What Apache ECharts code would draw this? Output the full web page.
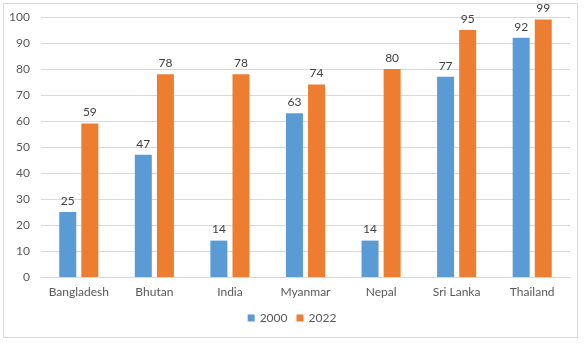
<!DOCTYPE html>
<html><head><meta charset="utf-8">
<script src="https://cdn.jsdelivr.net/npm/echarts@6/dist/echarts.min.js"></script>
<style>
html,body{margin:0;padding:0;background:#fff;}
#frame{position:absolute;left:3px;top:3px;width:575px;height:335px;border:1px solid #d9d9d9;box-sizing:border-box;}
#c{position:absolute;left:0;top:0;width:584px;height:345px;}
</style></head>
<body>
<div id="frame"></div>
<div id="c"></div>
<script>
const categories = ['Bangladesh','Bhutan','India','Myanmar','Nepal','Sri Lanka','Thailand'];
const values2000 = [25,47,14,63,14,77,92];
const values2022 = [59,78,78,74,80,95,99];
const seriesNames = ['2000','2022'];
const yTicks = {min:0, max:100, interval:10};

const chart = echarts.init(document.getElementById('c'), null, {renderer:'canvas'});
const txt = '#595959';
const font = 'Lato, sans-serif';
const fs = 12;
const label = {show:true, position:'top', distance:5, color:'#404040', fontSize:fs, fontFamily:font};
chart.setOption({
  animation:false,
  grid:{left:41, right:14, top:17, bottom:68, containLabel:false},
  legend:{bottom:16, left:'center', itemWidth:7, itemHeight:7, itemGap:9,
    textStyle:{color:txt, fontSize:fs, fontFamily:font}, icon:'rect',
    data:seriesNames},
  xAxis:{type:'category', data:categories,
    axisLine:{lineStyle:{color:'#d9d9d9'}}, axisTick:{show:false},
    axisLabel:{color:txt, fontSize:fs, fontFamily:font, margin:9, interval:0}},
  yAxis:{type:'value', min:yTicks.min, max:yTicks.max, interval:yTicks.interval,
    axisLine:{show:false}, axisTick:{show:false},
    splitLine:{lineStyle:{color:'#d9d9d9'}},
    axisLabel:{color:txt, fontSize:fs, fontFamily:font, margin:11}},
  series:[
    {name:seriesNames[0], type:'bar', data:values2000, barWidth:17, barGap:'30%', itemStyle:{color:'#5B9BD5'}, label:label},
    {name:seriesNames[1], type:'bar', data:values2022, barWidth:17, itemStyle:{color:'#ED7D31'}, label:label}
  ]
});
</script>
</body></html>
